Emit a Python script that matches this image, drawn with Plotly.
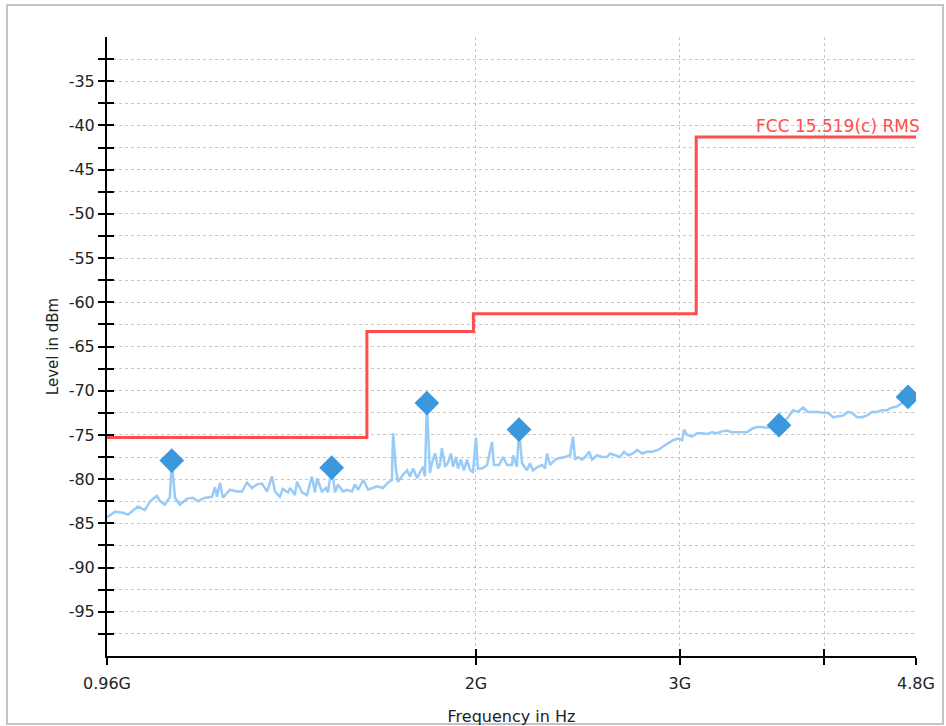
import plotly.graph_objects as go
import numpy as np

# Measured spectrum trace (frequency in MHz, level in dBm)
trace_freq_mhz = [960, 975, 991, 1001, 1021, 1035, 1046, 1060, 1067, 1077, 1088, 1092, 1099, 1110, 1126, 1139,
                  1150, 1167, 1183, 1190, 1195, 1202, 1209, 1226, 1243, 1256, 1268, 1281, 1294, 1307, 1320, 1333,
                  1341, 1354, 1362, 1376, 1382, 1395, 1401, 1415, 1429, 1443, 1452, 1458, 1472, 1484, 1490, 1501,
                  1511, 1520, 1535, 1548, 1563, 1572, 1582, 1598, 1614, 1630, 1643, 1662, 1679, 1692, 1696, 1706,
                  1713, 1730, 1744, 1754, 1765, 1779, 1789, 1800, 1807, 1814, 1825, 1833, 1844, 1855, 1862, 1869,
                  1881, 1892, 1903, 1911, 1922, 1930, 1941, 1953, 1965, 1977, 1988, 2000, 2008, 2024, 2045, 2065,
                  2073, 2094, 2111, 2128, 2149, 2153, 2170, 2179, 2192, 2214, 2227, 2240, 2263, 2281, 2295, 2304,
                  2318, 2341, 2364, 2388, 2412, 2426, 2436, 2450, 2470, 2485, 2505, 2520, 2545, 2570, 2596, 2611,
                  2638, 2664, 2685, 2707, 2734, 2756, 2783, 2811, 2839, 2873, 2902, 2931, 2960, 2990, 3014, 3026,
                  3044, 3074, 3105, 3136, 3167, 3199, 3231, 3263, 3296, 3329, 3362, 3396, 3430, 3464, 3499, 3534,
                  3569, 3605, 3655, 3684, 3721, 3758, 3796, 3834, 3872, 3911, 3950, 3989, 4029, 4070, 4110, 4151,
                  4193, 4226, 4269, 4311, 4354, 4398, 4442, 4486, 4531, 4576, 4622, 4668, 4724, 4762]
trace_level_dbm = [-84.3, -83.7, -83.8, -84.0, -83.1, -83.5, -82.5, -81.9, -82.5, -82.9, -82.0, -77.9, -82.1, -82.9, -82.2, -82.1,
                   -82.5, -82.1, -82.0, -80.9, -82.0, -80.4, -82.1, -81.2, -81.4, -81.4, -80.4, -81.0, -80.6, -80.5, -81.4, -79.7,
                   -81.4, -82.0, -81.1, -81.5, -81.0, -81.8, -80.3, -81.5, -81.8, -79.7, -81.5, -79.9, -81.4, -81.0, -81.5, -78.7,
                   -81.5, -80.6, -81.4, -81.2, -81.4, -80.6, -81.2, -80.1, -81.2, -81.0, -80.8, -81.0, -80.4, -80.1, -74.8, -79.0,
                   -80.3, -79.5, -79.0, -79.7, -78.8, -79.9, -79.2, -78.6, -79.7, -71.4, -79.3, -78.1, -77.1, -78.8, -78.4, -76.5,
                   -78.6, -78.1, -77.1, -78.6, -77.5, -78.8, -77.8, -79.0, -77.8, -79.0, -79.2, -75.3, -78.8, -78.8, -78.4, -75.8,
                   -78.4, -78.4, -77.5, -78.4, -78.4, -77.3, -78.6, -74.4, -78.2, -79.0, -78.2, -79.0, -78.6, -78.4, -78.8, -77.1,
                   -78.4, -77.8, -77.6, -77.5, -77.3, -75.2, -77.8, -77.5, -77.8, -77.5, -76.9, -77.8, -77.3, -77.5, -77.5, -77.1,
                   -77.3, -77.5, -76.9, -77.3, -77.1, -76.7, -77.1, -76.9, -76.9, -76.7, -76.3, -75.9, -75.6, -75.4, -75.6, -74.4,
                   -75.0, -75.2, -74.8, -74.8, -74.9, -74.7, -74.8, -74.6, -74.5, -74.7, -74.7, -74.7, -74.7, -74.3, -74.1, -74.1,
                   -74.2, -74.1, -73.9, -73.7, -73.0, -72.2, -72.4, -71.9, -72.4, -72.4, -72.4, -72.5, -72.5, -73.0, -72.9, -72.8,
                   -72.4, -72.5, -73.0, -73.0, -72.8, -72.4, -72.4, -72.2, -72.2, -71.9, -71.8, -71.4, -70.7, -71.0]

# Detected peaks
peak_freq_mhz = [1092, 1501, 1814, 2179, 3655, 4724]
peak_level_dbm = [-77.9, -78.7, -71.4, -74.4, -73.9, -70.7]

# FCC 15.519(c) RMS limit (step line)
limit_freq_mhz = [960, 1610, 1990, 3100, 4800]
limit_level_dbm = [-75.3, -63.3, -61.3, -41.3, -41.3]
limit_name = "FCC 15.519(c) RMS"

# Axis ticks
x_tick_vals = [960, 2000, 3000, 4000, 4800]
x_tick_text = ["0.96G", "2G", "3G", "", "4.8G"]
y_major = [-35, -40, -45, -50, -55, -60, -65, -70, -75, -80, -85, -90, -95]
y_major_text = ["-35", "-40", "-45", "-50", "-55", "-60", "-65", "-70", "-75", "-80", "-85", "-90", "-95"]
y_minor = [-32.5, -37.5, -42.5, -47.5, -52.5, -57.5, -62.5, -67.5, -72.5, -77.5, -82.5, -87.5, -92.5, -97.5]

x_range = [np.log10(960), np.log10(4800)]
y_range = [-100, -30]

FONT = "DejaVu Sans, Verdana, sans-serif"
GRID = "#c6c6c6"

fig = go.Figure()
fig.add_trace(go.Scatter(x=trace_freq_mhz, y=trace_level_dbm, mode="lines",
                         line=dict(color="#99cbf8", width=2.5), hoverinfo="skip", showlegend=False))
fig.add_trace(go.Scatter(x=limit_freq_mhz, y=limit_level_dbm, mode="lines", line_shape="hv",
                         line=dict(color="#ff4d4d", width=3), showlegend=False))
fig.add_trace(go.Scatter(x=peak_freq_mhz, y=peak_level_dbm, mode="markers",
                         marker=dict(symbol="diamond", size=19, color="#3b98dd"), showlegend=False))
# invisible trace to anchor overlay axes (inner tick halves)
fig.add_trace(go.Scatter(x=[960, 4800], y=[-100, -30], xaxis="x2", yaxis="y2", mode="lines",
                         line=dict(width=0), opacity=0, hoverinfo="skip", showlegend=False))

fig.add_annotation(x=np.log10(4800), y=-41.3, text=limit_name, showarrow=False,
                   xanchor="right", yanchor="bottom", xshift=6, yshift=-1,
                   font=dict(family=FONT, size=17, color="#ff4d4d"))

fig.update_layout(
    width=946, height=726,
    margin=dict(l=107, r=30, t=37, b=70),
    paper_bgcolor="white", plot_bgcolor="white",
    font=dict(family=FONT, size=16, color="#222222"),
    xaxis=dict(type="log", range=x_range, tickvals=x_tick_vals, ticktext=x_tick_text,
               showline=True, linecolor="black", linewidth=2, automargin=False,
               ticks="outside", ticklen=7, tickwidth=2, tickcolor="black", ticklabelstandoff=5,
               showgrid=True, gridcolor=GRID, griddash="dot", gridwidth=1,
               zeroline=False, title=dict(text="Frequency in Hz", standoff=20, font=dict(size=16))),
    yaxis=dict(range=y_range, tickvals=y_major, ticktext=y_major_text,
               showline=True, linecolor="black", linewidth=2, automargin=False,
               ticks="outside", ticklen=7, tickwidth=2, tickcolor="black",
               showgrid=True, gridcolor=GRID, griddash="dot", gridwidth=1,
               minor=dict(tickvals=y_minor, ticks="outside", ticklen=7, tickwidth=2, tickcolor="black",
                          showgrid=True, gridcolor=GRID, griddash="dot", gridwidth=1),
               zeroline=False, title=dict(text="Level in dBm", standoff=6, font=dict(size=15))),
    xaxis2=dict(type="log", range=x_range, tickvals=x_tick_vals, overlaying="x", anchor="y2",
                side="bottom", ticks="inside", ticklen=7, tickwidth=2, tickcolor="black", automargin=False,
                showticklabels=False, showgrid=False, showline=False, zeroline=False),
    yaxis2=dict(range=y_range, tickvals=y_major + y_minor, overlaying="y", anchor="x2",
                side="left", ticks="inside", ticklen=7, tickwidth=2, tickcolor="black", automargin=False,
                showticklabels=False, showgrid=False, showline=False, zeroline=False),
)

# outer frame of the chart panel
fig.add_shape(type="rect", xref="paper", yref="paper",
              x0=(7 - 107) / 809, x1=(943 - 107) / 809, y0=(656 - 724) / 619, y1=(656 - 5) / 619,
              line=dict(color="#c4c4c4", width=2), layer="below")

fig.write_html("out.html", config={"displayModeBar": False},
               post_script="document.body.style.margin='0';document.body.style.overflow='hidden';")
